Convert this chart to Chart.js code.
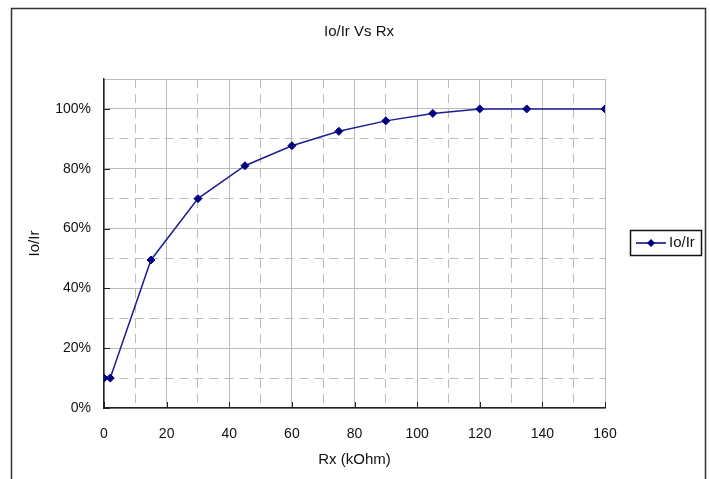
<!DOCTYPE html>
<html>
<head>
<meta charset="utf-8">
<script src="https://cdn.jsdelivr.net/npm/chart.js@4"></script>
<style>
  html, body { margin: 0; padding: 0; background: #fff; }
  #wrap { width: 710px; height: 479px; }
</style>
</head>
<body>
<div id="wrap"><canvas id="chart" width="710" height="479"></canvas></div>
<script>
// data
var rxValues = [0, 2, 15, 30, 45, 60, 75, 90, 105, 120, 135, 160];
var ratioValues = [10, 10, 49.5, 70, 81, 87.7, 92.5, 96, 98.5, 100, 100, 100];
var seriesLabel = 'Io/Ir';
var chartTitle = 'Io/Ir Vs Rx';
var xTitle = 'Rx (kOhm)';
var yTitle = 'Io/Ir';

var FONT = '"Liberation Sans", Arial, sans-serif';
var NAVY = '#000080';
var GRID = '#bcbcbc';
var TEXT = '#111';

function isMajor(v) { return Math.round(v) % 20 === 0; }

// frame, title, legend, inward tick marks
var excelLook = {
  id: 'excelLook',
  afterDraw(chart) {
    const ctx = chart.ctx;
    const xs = chart.scales.x, ys = chart.scales.y;
    const area = chart.chartArea;
    ctx.save();

    // outer frame (bottom edge falls off the picture)
    ctx.strokeStyle = '#333';
    ctx.lineWidth = 1.5;
    ctx.beginPath();
    ctx.moveTo(11.5, 480);
    ctx.lineTo(11.5, 8.5);
    ctx.lineTo(705.5, 8.5);
    ctx.lineTo(705.5, 480);
    ctx.stroke();

    // inward tick marks
    ctx.strokeStyle = '#222';
    ctx.lineWidth = 1;
    ctx.beginPath();
    for (let v = 0; v <= 100; v += 20) {
      const y = Math.round(ys.getPixelForValue(v)) + 0.5;
      ctx.moveTo(area.left, y);
      ctx.lineTo(area.left + 6, y);
    }
    for (let v = 0; v <= 160; v += 20) {
      const x = Math.round(xs.getPixelForValue(v)) + 0.5;
      ctx.moveTo(x, area.bottom);
      ctx.lineTo(x, area.bottom - 6);
    }
    ctx.stroke();

    // title
    ctx.fillStyle = TEXT;
    ctx.font = '15px ' + FONT;
    ctx.textAlign = 'center';
    ctx.textBaseline = 'middle';
    ctx.fillText(chartTitle, 359, 32);

    // legend box
    ctx.strokeStyle = '#111';
    ctx.lineWidth = 1.5;
    ctx.strokeRect(630.5, 230.5, 71, 25);
    const ly = 243;
    ctx.strokeStyle = NAVY;
    ctx.lineWidth = 1.5;
    ctx.beginPath();
    ctx.moveTo(636, ly);
    ctx.lineTo(666, ly);
    ctx.stroke();
    ctx.fillStyle = NAVY;
    ctx.beginPath();
    ctx.moveTo(651, ly - 4);
    ctx.lineTo(655, ly);
    ctx.lineTo(651, ly + 4);
    ctx.lineTo(647, ly);
    ctx.closePath();
    ctx.fill();
    ctx.fillStyle = TEXT;
    ctx.textAlign = 'left';
    ctx.fillText(chart.data.datasets[0].label, 669, ly);

    ctx.restore();
  }
};

new Chart(document.getElementById('chart'), {
  type: 'line',
  data: {
    datasets: [{
      label: seriesLabel,
      data: rxValues.map((x, i) => ({ x: x, y: ratioValues[i] })),
      borderColor: '#1c1c96',
      borderWidth: 1.5,
      backgroundColor: NAVY,
      pointBackgroundColor: NAVY,
      pointBorderColor: NAVY,
      pointStyle: 'rectRot',
      pointRadius: 4,
      pointBorderWidth: 1,
      tension: 0
    }]
  },
  options: {
    responsive: false,
    animation: false,
    devicePixelRatio: 1,
    layout: { padding: { left: 12, right: 105, top: 79, bottom: 0 } },
    plugins: {
      legend: { display: false },
      title: { display: false },
      tooltip: { enabled: false }
    },
    scales: {
      x: {
        type: 'linear',
        min: 0, max: 160,
        afterFit: s => { s.height = 71; },
        grid: {
          color: GRID,
          lineWidth: 1,
          drawTicks: false
        },
        border: {
          color: '#222', width: 1.5,
          dash: ctx => (ctx.tick && !isMajor(ctx.tick.value)) ? [9, 6] : []
        },
        ticks: {
          stepSize: 10,
          autoSkip: false,
          maxRotation: 0,
          padding: 18,
          color: TEXT,
          font: { family: FONT, size: 14 },
          callback: v => isMajor(v) ? String(v) : ''
        },
        title: {
          display: true,
          text: xTitle,
          color: TEXT,
          font: { family: FONT, size: 15 },
          padding: { top: 0, bottom: 10 }
        }
      },
      y: {
        min: 0, max: 110,
        afterFit: s => { s.width = 92; },
        grid: {
          color: GRID,
          lineWidth: 1,
          drawTicks: false
        },
        border: {
          color: '#222', width: 1.5,
          dash: ctx => (ctx.tick && ctx.tick.value <= 100 && !isMajor(ctx.tick.value)) ? [9, 6] : []
        },
        ticks: {
          stepSize: 10,
          autoSkip: false,
          padding: 13,
          color: TEXT,
          font: { family: FONT, size: 14 },
          callback: v => (isMajor(v) && v <= 100) ? v + '%' : ''
        },
        title: {
          display: true,
          text: yTitle,
          color: TEXT,
          font: { family: FONT, size: 15 },
          padding: { top: 14, bottom: 0 }
        }
      }
    }
  },
  plugins: [excelLook]
});
</script>
</body>
</html>
